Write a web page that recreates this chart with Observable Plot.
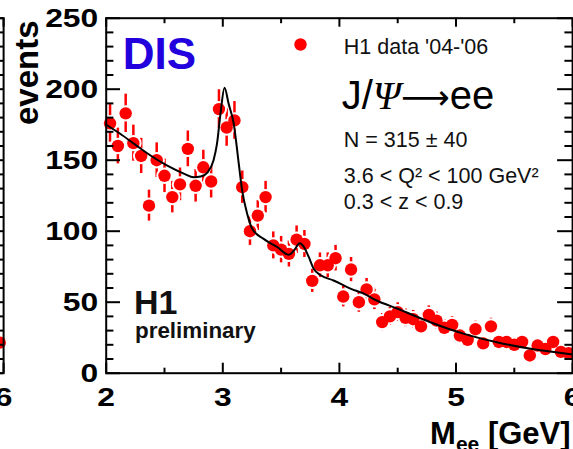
<!DOCTYPE html>
<html><head><meta charset="utf-8">
<script src="https://cdn.jsdelivr.net/npm/d3@7"></script>
<script src="https://cdn.jsdelivr.net/npm/@observablehq/plot@0.6"></script>
<style>
html,body{margin:0;padding:0;background:#fff;overflow:hidden;}
#wrap{position:relative;width:573px;height:449px;overflow:hidden;background:#fff;}
#wrap svg{position:absolute;top:0;}
</style></head><body><div id="wrap"></div>
<script>
// ---- data ----
const massBins = [2.033,2.1,2.167,2.233,2.3,2.367,2.433,2.5,2.567,2.633,2.7,2.767,2.833,2.9,2.967,3.033,3.1,3.167,3.233,3.3,
  3.367,3.433,3.5,3.567,3.633,3.7,3.767,3.833,3.9,3.967,4.033,4.1,4.167,4.233,4.3,4.367,4.433,4.5,4.567,4.633,
  4.7,4.767,4.833,4.9,4.967,5.033,5.1,5.167,5.233,5.3,5.367,5.433,5.5,5.567,5.633,5.7,5.767,5.833,5.9,5.967];
const events = [176,160,183,162,153,118,150,139,124,133,158,132,145,135,186,173,178,131,100,111,
  124,90,87,84,94,91,65,76,76,81,54,73,50,59,52,36,40,43,39,38,
  33,41,37,32,34,26.5,23.5,31,21,33,22,22,20,22,12.5,19.5,17,22,15,14];
const errors = [13.3,12.6,13.5,12.7,12.4,10.9,12.2,11.8,11.1,11.5,12.6,11.5,12,11.6,13.6,13.2,13.3,11.4,10,10.5,
  11.1,9.5,9.3,9.2,9.7,9.5,8.1,8.7,8.7,9,7.3,8.5,7.1,7.7,7.2,6,6.3,6.6,6.2,6.2,
  5.7,6.4,6.1,5.7,5.8,5.1,4.8,5.6,4.6,5.7,4.7,4.7,4.5,4.7,3.5,4.4,4.1,4.7,3.9,3.7];
const fitMass = [2.0,2.12,2.24,2.38,2.52,2.67,2.75,2.81,2.87,2.92,2.95,2.98,3.015,3.05,3.094,3.137,3.166,3.209,3.252,3.35,
  3.47,3.566,3.61,3.66,3.695,3.738,3.78,3.84,3.95,4.1,4.21,4.32,4.5,4.78,5.07,5.35,5.64,6.0];
const fitEvents = [175,168.6,161.5,153.3,146.3,140.4,138,138.5,141.5,149.8,161.5,182.7,201,189.7,175.6,147.5,128.7,112.3,101.7,94.6,
  88.7,83.4,86.4,91.5,89,81.7,73.5,69,65.3,59.4,56,51.2,45.4,35.9,27.7,21.8,17.2,13.2];
// neighbouring (cropped) panel: only its last bin is visible
const neighbourMass = [5.967];
const neighbourEvents = [21.5];
const neighbourErrors = [4.6];

const xMajor = [2,3,4,5,6];
const yMajor = [0,50,100,150,200,250];
const xLabel = "Mee [GeV]";
const yLabel = "events";
const legendLabel = "H1 data '04-'06";
const processLabel = "J/Ψ→ee";
const infoLines = ["N = 315 ± 40", "3.6 < Q² < 100 GeV²", "0.3 < z < 0.9"];
const tagLabel = "DIS";
const h1Label = "H1";
const prelimLabel = "preliminary";

// ---- layout ----
const W = 573, H = 449, ML = 105.7, MR = 0.9, MT = 17.7, MB = 76.3;
const PH = H - MT - MB;
const PXPERGEV = (W - ML - MR) / 4;
const FONT = "'Liberation Sans', Arial, Helvetica, sans-serif";
const xMinor = [2.5, 3.5, 4.5, 5.5];
const yMinor = d3.range(0, 251, 10).filter(v => v % 50 !== 0);

function toRows(ms, ns, es) { return ms.map((m, i) => ({m, n: ns[i], e: es[i]})); }
const rows = toRows(massBins, events, errors);
const fit = fitMass.map((m, i) => ({m, n: fitEvents[i]}));
const neighbourRows = toRows(neighbourMass, neighbourEvents, neighbourErrors);

const tk = {stroke: "black", strokeWidth: 2};
const lab = {tickSize: 0, fontSize: 26.5, fontWeight: "bold", fontFamily: FONT, fill: "black", label: null, tickFormat: d => String(d)};
function frameMarks(PW, xTicks, xMinorTicks, withY, withXLabel) {
  return [
    Plot.tickY(yMinor, {...tk, insetRight: PW - 7.7}),
    Plot.tickY(yMajor, {...tk, insetRight: PW - 14.3}),
    Plot.tickY(yMinor, {...tk, insetLeft: PW - 7.7}),
    Plot.tickY(yMajor, {...tk, insetLeft: PW - 15}),
    Plot.tickX(xMinorTicks, {...tk, insetTop: PH - 5}),
    Plot.tickX(xTicks, {...tk, insetTop: PH - 10}),
    Plot.tickX(xMinorTicks, {...tk, insetBottom: PH - 5.5}),
    Plot.tickX(xTicks, {...tk, insetBottom: PH - 9}),
    Plot.frame({stroke: "black", strokeWidth: 2}),
    ...(withY ? [Plot.axisY(yMajor, {...lab, tickPadding: 8})] : []),
    Plot.axisX(xTicks, {...lab, tickPadding: 13.5}),
    ...(withXLabel ? [Plot.text([xLabel], {frameAnchor: "bottom-right", text: d => d, dx: -2, dy: 70.3, lineAnchor: "bottom", textAnchor: "end",
      fontSize: 31, fontWeight: "bold", fontFamily: FONT, fill: "black", stroke: "none"})] : [])
  ];
}
function dataMarks(r) {
  return [
    Plot.ruleX(r, {x: "m", y1: d => d.n - d.e, y2: d => d.n + d.e, stroke: "red", strokeWidth: 2.5}),
    Plot.dot(r, {x: "m", y: "n", r: 8.2, fill: "white", stroke: "none"}),
    Plot.dot(r, {x: "m", y: "n", r: 6.2, fill: "red", stroke: "none"})
  ];
}
const common = {height: H, marginTop: MT, marginBottom: MB, y: {domain: [0, 250]},
  style: {fontFamily: FONT, color: "black", background: "transparent", overflow: "visible"}};

function txt(s, dx, dy, o) {
  return Plot.text([s], {frameAnchor: "top-left", text: d => d, dx, dy, lineAnchor: "bottom", textAnchor: "start",
    fontFamily: FONT, fill: "#111", ...o});
}

const mainPW = W - ML - MR;
const main = Plot.plot({...common, width: W, marginLeft: ML, marginRight: MR, x: {domain: [2, 6]}, marks: [
  ...dataMarks(rows),
  Plot.line(fit, {x: "m", y: "n", stroke: "black", strokeWidth: 2, curve: "monotone-x"}),
  ...frameMarks(mainPW, xMajor, xMinor, true, true),
  Plot.text([yLabel], {frameAnchor: "top-left", text: d => d, dx: -68.7, dy: 2.3, rotate: -90, textAnchor: "end",
    lineAnchor: "bottom", fontSize: 33, fontWeight: "bold", fontFamily: FONT, fill: "black"}),
  txt(tagLabel, 16.6, 50.6, {fontSize: 44, fontWeight: "bold", fill: "#2200dd"}),
  Plot.dot([legendLabel], {frameAnchor: "top-left", dx: 194.3, dy: 26.3, r: 6.2, fill: "red"}),
  txt(legendLabel, 237.6, 35.3, {fontSize: 21.5}),
  txt(processLabel, 235.5, 90.6, {fontSize: 40, fill: "black"}),
  txt(infoLines[0], 237.6, 128.5, {fontSize: 21.5}),
  txt(infoLines[1], 237.6, 164.3, {fontSize: 21.5}),
  txt(infoLines[2], 237.6, 190.3, {fontSize: 21.5}),
  txt(h1Label, 27.8, 295.6, {fontSize: 34, fontWeight: "bold"}),
  txt(prelimLabel, 28.8, 319.3, {fontSize: 22.4, fontWeight: "bold"})
]});

// narrow SVG for the cropped neighbouring panel (same scale), its right frame edge sits at x = 3
const NW = 60, NPW = NW - MR;
const neighbour = Plot.plot({...common, width: NW, marginLeft: 0, marginRight: MR,
  x: {domain: [6 - NPW / PXPERGEV, 6]}, marks: [...dataMarks(neighbourRows), ...frameMarks(NPW, [6], [], false, false)]});
neighbour.style.left = (3.1 - NPW) + "px";
main.style.left = "0px";

// widen the ROOT-style tick digits a little around their anchor
function stretchTicks(svg) {
  d3.select(svg).selectAll('g[aria-label="x-axis tick label"] text, g[aria-label="y-axis tick label"] text').each(function() {
    const tr = this.getAttribute("transform");
    if (tr) this.setAttribute("transform", tr + " scale(1.2,1)");
    else {
      const x = +this.getAttribute("x") || 0, y = +this.getAttribute("y") || 0;
      this.setAttribute("transform", `translate(${x},${y}) scale(1.2,1) translate(${-x},${-y})`);
    }
  });
}
function fixLabels(svg) {
  d3.select(svg).selectAll("text").each(function() {
    const s = this.textContent;
    const tgt = d3.select(this.querySelector("tspan") || this);
    if (s === xLabel) {
      tgt.text(null);
      tgt.append("tspan").text("M");
      tgt.append("tspan").attr("font-size", 21).attr("dy", 7).text("ee");
      tgt.append("tspan").attr("dy", -7).text(" [GeV]");
    } else if (s === processLabel) {
      tgt.text(null);
      tgt.append("tspan").text("J/");
      tgt.append("tspan").attr("font-style", "italic").attr("font-family", "'Liberation Serif', serif").text("Ψ");
      tgt.append("tspan").attr("font-family", "'DejaVu Sans', sans-serif").attr("font-size", 34).text("⟶");
      tgt.append("tspan").text("ee");
    }
  });
}
stretchTicks(main); stretchTicks(neighbour);
fixLabels(main); fixLabels(neighbour);
const wrap = document.getElementById("wrap");
wrap.appendChild(neighbour);
wrap.appendChild(main);
</script></body></html>
